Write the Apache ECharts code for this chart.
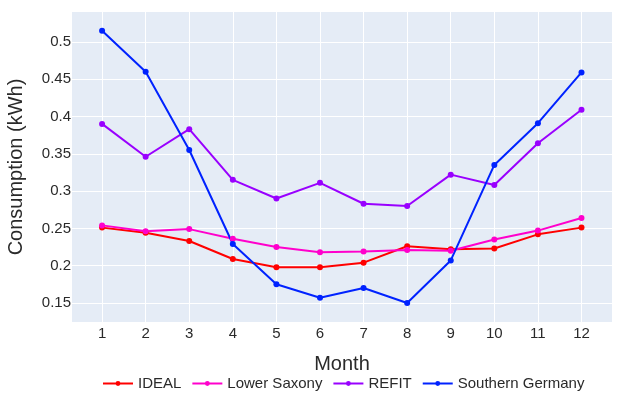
<!DOCTYPE html>
<html>
<head>
<meta charset="utf-8">
<script src="https://cdn.jsdelivr.net/npm/echarts@6/dist/echarts.min.js"></script>
<style>html,body{margin:0;padding:0;background:#fff}#c{width:618px;height:399px}</style>
</head>
<body>
<div id="c"></div>
<script>
const months = [1,2,3,4,5,6,7,8,9,10,11,12];
const xTicks = [1,2,3,4,5,6,7,8,9,10,11,12];
const yTicks = [0.15,0.2,0.25,0.3,0.35,0.4,0.45,0.5];
const ideal = [0.251,0.244,0.233,0.209,0.198,0.198,0.204,0.226,0.222,0.223,0.242,0.251];
const lowerSaxony = [0.254,0.246,0.249,0.236,0.225,0.218,0.219,0.221,0.220,0.235,0.247,0.264];
const refit = [0.390,0.346,0.383,0.315,0.290,0.311,0.283,0.280,0.322,0.308,0.364,0.409];
const southernGermany = [0.515,0.460,0.355,0.229,0.175,0.157,0.170,0.150,0.207,0.335,0.391,0.459];

const names = ['IDEAL','Lower Saxony','REFIT','Southern Germany'];
const colors = ['#ff0000','#ff00cc','#9900ff','#0022ff'];
const values = [ideal, lowerSaxony, refit, southernGermany];
const font = '"Liberation Sans", Arial, sans-serif';

const chart = echarts.init(document.getElementById('c'), null, {renderer:'canvas'});
chart.setOption({
  animation: false,
  backgroundColor: '#fff',
  color: colors,
  grid: {left: 72, top: 12, right: 6, bottom: 77, show: true, backgroundColor: '#e5ecf6', borderWidth: 0,
    containLabel: false, outerBoundsMode: 'none'},
  legend: {
    top: 371, left: 97, itemWidth: 30, itemHeight: 6, itemGap: 10,
    textStyle: {fontFamily: font, fontSize: 15, color: '#2a2a2a'},
    data: names
  },
  xAxis: {
    type: 'value', min: 0.31, max: 12.7,
    name: 'Month', nameLocation: 'middle', nameGap: 32,
    nameTextStyle: {fontFamily: font, fontSize: 20, color: '#2a2a2a'},
    axisLine: {show: false},
    axisTick: {show: false, customValues: xTicks},
    axisLabel: {customValues: xTicks, fontFamily: font, fontSize: 15, color: '#2a2a2a', margin: 4},
    splitLine: {show: true, lineStyle: {color: '#ffffff', width: 1}}
  },
  yAxis: {
    type: 'value', min: 0.1245, max: 0.540,
    name: 'Consumption (kWh)', nameLocation: 'middle', nameGap: 46,
    nameTextStyle: {fontFamily: font, fontSize: 20, color: '#2a2a2a'},
    axisLine: {show: false},
    axisTick: {show: false, customValues: yTicks},
    axisLabel: {customValues: yTicks, fontFamily: font, fontSize: 15, color: '#2a2a2a', margin: 1,
      formatter: v => String(Math.round(v*100)/100)},
    splitLine: {show: true, lineStyle: {color: '#ffffff', width: 1}}
  },
  series: names.map((n, i) => ({
    name: n, type: 'line',
    data: months.map((m, j) => [m, values[i][j]]),
    symbol: 'circle', symbolSize: 6, showSymbol: true,
    lineStyle: {width: 2, color: colors[i]},
    itemStyle: {color: colors[i]}
  }))
});
</script>
</body>
</html>
